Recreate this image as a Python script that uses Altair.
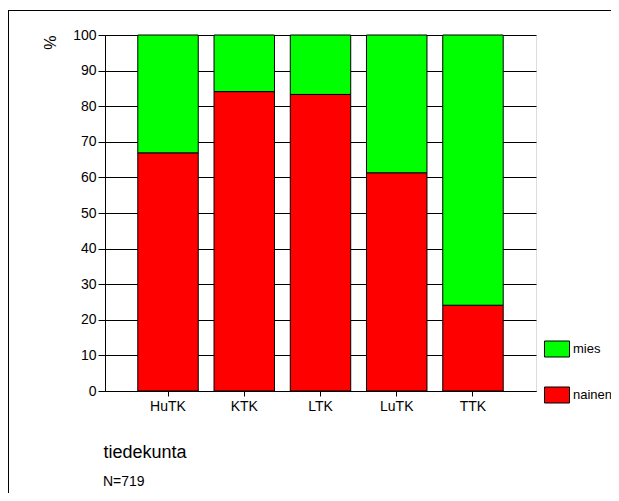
import altair as alt
import pandas as pd

faculties = ["HuTK", "KTK", "LTK", "LuTK", "TTK"]
nainen = [66.9, 84.1, 83.3, 61.3, 24.1]
mies = [round(100 - v, 1) for v in nainen]
groups = ["mies", "nainen"]
group_colors = ["#00ff00", "#ff0000"]
y_ticks = list(range(0, 101, 10))
note = "N=719"

rows = []
for f, n, m in zip(faculties, nainen, mies):
    rows.append({"tiedekunta": f, "sukupuoli": "nainen", "pct": n, "ord": 0})
    rows.append({"tiedekunta": f, "sukupuoli": "mies", "pct": m, "ord": 1})
df = pd.DataFrame(rows)
note_df = pd.DataFrame({"txt": [note]})

FONT = "Liberation Sans"

bars = alt.Chart(df).mark_bar(stroke="black", strokeWidth=1).encode(
    x=alt.X("tiedekunta:N", sort=faculties,
            scale=alt.Scale(paddingInner=0.207, paddingOuter=0.43),
            axis=alt.Axis(title="tiedekunta", labelAngle=0, labelFontSize=14,
                          labelFont=FONT, labelColor="black", labelPadding=3,
                          tickSize=5, tickColor="black", domainColor="black",
                          titleFont=FONT, titleFontSize=18, titleFontWeight="normal",
                          titleColor="black", titleAlign="left", titleAnchor="start",
                          titleX=-2, titleY=66, titleBaseline="alphabetic")),
    y=alt.Y("pct:Q", stack="zero",
            scale=alt.Scale(domain=[0, 100], nice=False),
            axis=alt.Axis(title="%", values=y_ticks, labelFontSize=14, labelFont=FONT,
                          labelColor="black", labelPadding=2, tickSize=7,
                          tickColor="black", domainColor="black", grid=True,
                          gridColor="black", gridOpacity=1, gridWidth=1,
                          titleFont=FONT, titleFontSize=16, titleFontWeight="normal",
                          titleColor="black", titleAngle=270, titleAlign="right",
                          titleBaseline="alphabetic", titleX=-50, titleY=0)),
    fill=alt.Fill("sukupuoli:N",
                  scale=alt.Scale(domain=groups, range=group_colors),
                  legend=alt.Legend(title=None, orient="none", legendX=439, legendY=301,
                                    symbolType="M-1,-0.64L1,-0.64L1,0.64L-1,0.64Z",
                                    symbolSize=625, symbolStrokeColor="black",
                                    symbolStrokeWidth=1, symbolOpacity=1,
                                    labelFont=FONT, labelFontSize=13, labelColor="black",
                                    labelOffset=3, labelLimit=200, rowPadding=23,
                                    padding=0)),
    order=alt.Order("ord:Q"),
)

note_text = alt.Chart(note_df).mark_text(
    align="left", baseline="alphabetic", font=FONT, fontSize=14, color="black"
).encode(x=alt.value(-2), y=alt.value(451), text="txt:N")

frame_top = alt.Chart(note_df).mark_rule(color="black", strokeWidth=1, clip=False).encode(
    x=alt.value(-97), x2=alt.value(506), y=alt.value(-24.5))
frame_left = alt.Chart(note_df).mark_rule(color="black", strokeWidth=1, clip=False).encode(
    x=alt.value(-96.5), y=alt.value(-25), y2=alt.value(458))

chart = alt.layer(bars, note_text, frame_top, frame_left).properties(
    width=431, height=356,
    padding={"left": 97, "top": 27, "right": 75, "bottom": 102},
    autosize=alt.AutoSizeParams(type="none"),
).configure_view(stroke="#333333", strokeWidth=1).configure(background="white")

chart.save("out.html", embed_options={"renderer": "svg", "actions": False})
